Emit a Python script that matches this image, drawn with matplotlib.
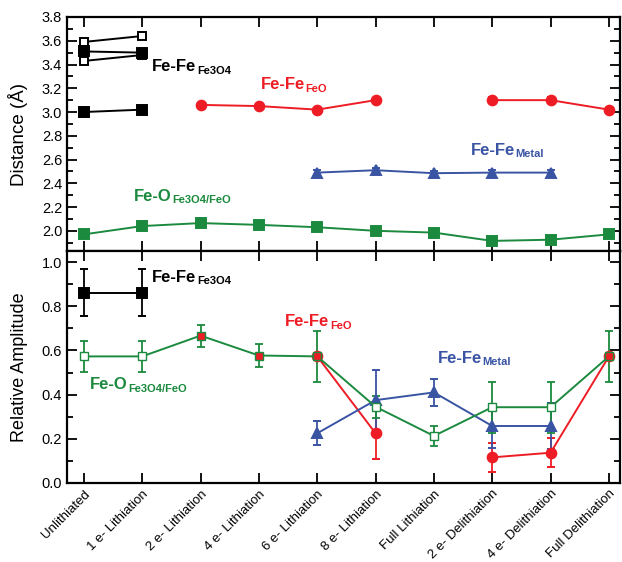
import numpy as np
import matplotlib
matplotlib.use("Agg")
import matplotlib.pyplot as plt
from matplotlib.ticker import MultipleLocator

plt.rcParams['font.family'] = ['Liberation Sans', 'DejaVu Sans']

categories = ["Unlithiated", "1 e- Lithiation", "2 e- Lithiation", "4 e- Lithiation",
              "6 e- Lithiation", "8 e- Lithiation", "Full Lithiation",
              "2 e- Delithiation", "4 e- Delithiation", "Full Delithiation"]

nan = np.nan
# ---- Distance panel ----
d_fe3o4_hollow_a = [3.59, 3.64] + [nan] * 8
d_fe3o4_hollow_b = [3.43, 3.48] + [nan] * 8
d_fe3o4_filled_a = [3.51, 3.50] + [nan] * 8
d_fe3o4_filled_b = [3.00, 3.02] + [nan] * 8
d_feo = [nan, nan, 3.06, 3.05, 3.02, 3.10, nan, 3.10, 3.10, 3.02]
d_feo_err = [0, 0, 0.01, 0.01, 0.01, 0.01, 0, 0.025, 0.025, 0.01]
d_metal = [nan, nan, nan, nan, 2.49, 2.51, 2.485, 2.49, 2.49, nan]
d_metal_err = [0, 0, 0, 0, 0.02, 0.02, 0.02, 0.02, 0.02, 0]
d_feo_o = [1.97, 2.04, 2.065, 2.05, 2.03, 2.00, 1.985, 1.915, 1.925, 1.97]
d_feo_o_err = [0.01] * 10

# ---- Amplitude panel ----
a_fe3o4 = [0.862, 0.862] + [nan] * 8
a_fe3o4_err = [0.105, 0.105] + [0] * 8
a_feo_o = [0.573, 0.573, 0.667, 0.577, 0.573, 0.345, 0.213, 0.343, 0.343, 0.573]
a_feo_o_err = [0.07, 0.07, 0.05, 0.05, 0.115, 0.05, 0.047, 0.115, 0.115, 0.115]
a_feo_o_filled = [False, False, True, True, True, False, False, False, False, True]
a_feo = [nan, nan, nan, nan, 0.573, 0.225, nan, 0.116, 0.137, 0.573]
a_feo_err = [0, 0, 0, 0, 0, 0.115, 0, 0.067, 0.065, 0]
a_metal = [nan, nan, nan, nan, 0.225, 0.375, 0.41, 0.258, 0.258, nan]
a_metal_err = [0, 0, 0, 0, 0.055, 0.135, 0.06, 0.1, 0.105, 0]

BLACK = '#000000'
RED = '#ee1c24'
BLUE = '#3a54a4'
GREEN = '#1b8a3e'

x = np.arange(len(categories))

fig = plt.figure(figsize=(6.22, 5.62), dpi=100)
L, R = 67 / 622, 620 / 622
ax1 = fig.add_axes([L, 1 - 251 / 562, R - L, (251 - 17) / 562])
ax2 = fig.add_axes([L, 1 - 483 / 562, R - L, (483 - 251) / 562])

lw = 1.4
ek = dict(capsize=3, elinewidth=1.3, capthick=1.3)


def series(ax, y, err, color, marker, mfc=None, ms=6.5):
    ax.errorbar(x, y, yerr=err, color=color, marker=marker, ms=ms, lw=lw,
                mfc=mfc if mfc else color, mec=color, mew=1.4, **ek)


# top panel
series(ax1, d_fe3o4_hollow_a, [0.01] * 10, BLACK, 's', 'white', 6)
series(ax1, d_fe3o4_hollow_b, [0.01] * 10, BLACK, 's', 'white', 6)
series(ax1, d_fe3o4_filled_a, [0.01] * 10, BLACK, 's', ms=7)
series(ax1, d_fe3o4_filled_b, [0.01] * 10, BLACK, 's', ms=7)
series(ax1, d_feo, d_feo_err, RED, 'o', ms=7)
series(ax1, d_metal, d_metal_err, BLUE, '^', ms=7.5)
series(ax1, d_feo_o, d_feo_o_err, GREEN, 's')

# bottom panel
series(ax2, a_fe3o4, a_fe3o4_err, BLACK, 's')
series(ax2, a_feo, a_feo_err, RED, 'o', ms=7)
series(ax2, a_metal, a_metal_err, BLUE, '^', ms=7.5)
ax2.errorbar(x, a_feo_o, yerr=a_feo_o_err, color=GREEN, lw=lw, **ek)
for xi, yi, f in zip(x, a_feo_o, a_feo_o_filled):
    ax2.plot(xi, yi, marker='s', ms=6, mfc=RED if f else 'white', mec=GREEN,
             mew=1.0, zorder=5)

for ax in (ax1, ax2):
    ax.set_xlim(-0.29, 9.19)
    ax.set_xticks(x)
    ax.tick_params(axis='both', which='both', direction='in', top=True, right=True,
                   labelsize=10.5, width=1.3)
    ax.tick_params(axis='both', which='major', length=7)
    ax.tick_params(axis='both', which='minor', length=4)
    ax.tick_params(axis='x', labelsize=9.5)
    for s in ax.spines.values():
        s.set_linewidth(1.6)

ax1.set_ylim(1.83, 3.8)
ax1.yaxis.set_major_locator(MultipleLocator(0.2))
ax1.yaxis.set_minor_locator(MultipleLocator(0.1))
ax1.set_yticks(np.arange(2.0, 3.81, 0.2))
ax1.set_yticklabels([f"{v:.1f}" for v in np.arange(2.0, 3.81, 0.2)])
ax1.tick_params(axis='x', labelbottom=False)
ax1.set_ylabel("Distance (Å)", fontsize=13.5)

ax2.set_ylim(0, 1.05)
ax2.yaxis.set_major_locator(MultipleLocator(0.2))
ax2.yaxis.set_minor_locator(MultipleLocator(0.1))
ax2.set_xticklabels(categories, rotation=45, ha='right', rotation_mode='anchor')
ax2.set_ylabel("Relative Amplitude", fontsize=13)
ax1.yaxis.set_label_coords(-0.07, 0.5)
ax2.yaxis.set_label_coords(-0.07, 0.5)


def label(ax, xd, yd, main, sub, color):
    t = ax.text(xd, yd, main, color=color, fontsize=12, fontweight='bold',
                va='center', ha='left')
    ax.annotate(sub, xy=(1, 0), xycoords=t, xytext=(0.5, -1), textcoords='offset points',
                color=color, fontsize=8, fontweight='bold', va='bottom', ha='left')


label(ax1, 1.17, 3.38, "Fe-Fe", "Fe3O4", BLACK)
label(ax1, 3.03, 3.23, "Fe-Fe", "FeO", RED)
label(ax1, 6.63, 2.68, "Fe-Fe", "Metal", BLUE)
label(ax1, 0.86, 2.29, "Fe-O", "Fe3O4/FeO", GREEN)

label(ax2, 1.17, 0.93, "Fe-Fe", "Fe3O4", BLACK)
label(ax2, 3.45, 0.73, "Fe-Fe", "FeO", RED)
label(ax2, 6.06, 0.565, "Fe-Fe", "Metal", BLUE)
label(ax2, 0.10, 0.444, "Fe-O", "Fe3O4/FeO", GREEN)

fig.savefig("out.png", dpi=100)
